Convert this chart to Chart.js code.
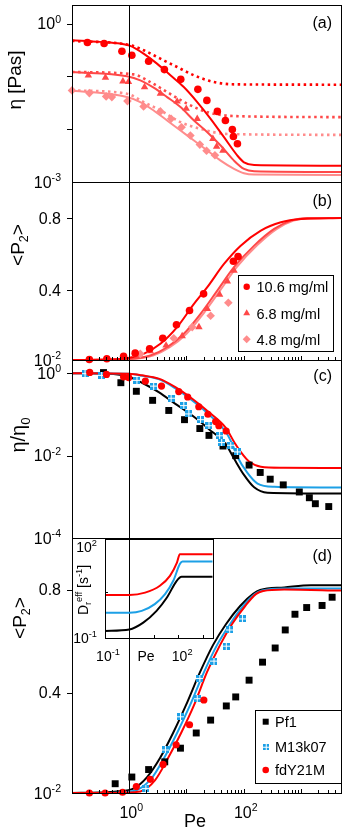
<!DOCTYPE html>
<html>
<head>
<meta charset="utf-8">
<script src="https://cdn.jsdelivr.net/npm/chart.js@4.4.0/dist/chart.umd.min.js"></script>
<style>
html, body { margin: 0; padding: 0; background: #fff; }
#wrap { position: relative; width: 351px; height: 832px; overflow: hidden; background: #fff; }
#wrap canvas { position: absolute; left: 0; top: 0; }
</style>
</head>
<body>
<div id="wrap">
  <canvas id="pa" width="351" height="832"></canvas>
  <canvas id="pb" width="351" height="832"></canvas>
  <canvas id="pc" width="351" height="832"></canvas>
  <canvas id="pd" width="351" height="832"></canvas>
  <canvas id="pin" width="351" height="832"></canvas>
</div>
<script>
//////////////////////////////////////////////
// Datos

// (a) viscosidad medida
const aPe106 = [0.186, 0.364, 0.745, 1.11, 2.18, 4.11, 7.94, 15.8, 22.7, 34.6, 47.8, 63.2, 66, 77.6];
const aEta106 = [0.436, 0.417, 0.298, 0.25, 0.193, 0.134, 0.0877, 0.0567, 0.035, 0.0217, 0.0146, 0.00986, 0.00725, 0.00528];
const aPe68 = [0.193, 0.384, 0.775, 0.97, 1.85, 3.5, 6.87, 9.9, 15.4, 28.9, 33.6, 43.3];
const aEta68 = [0.1045, 0.0945, 0.0804, 0.079, 0.0627, 0.047, 0.0335, 0.0244, 0.0157, 0.00657, 0.0047, 0.00394];
const aPe48 = [0.1, 0.201, 0.395, 0.497, 0.93, 1.78, 3.5, 5.39, 8.2, 11.7, 17.1, 22.4, 31.4];
const aEta48 = [0.0542, 0.0482, 0.0417, 0.0405, 0.034, 0.027, 0.0217, 0.0157, 0.0109, 0.0076, 0.0051, 0.0039, 0.0032];
// (a) modelo, lineas continuas
const aFitPe106 = [0.1, 0.31, 0.695, 1.04, 1.78, 3.05, 5.24, 8.97, 15.4, 26.4, 45.2, 77.4, 101, 152, 5000];
const aFit106 = [0.483, 0.449, 0.417, 0.377, 0.269, 0.174, 0.1045, 0.0627, 0.0326, 0.0157, 0.00705, 0.00316, 0.00236, 0.0021, 0.00204];
const aFitPe = [0.1, 0.91, 1.56, 2.67, 4.58, 7.85, 13.5, 23.1, 39.5, 67.6, 101, 152, 5000];
const aFit68 = [0.121, 0.1, 0.084, 0.061, 0.0405, 0.0262, 0.0146, 0.00877, 0.0049, 0.00254, 0.00177, 0.0016, 0.00155];
const aFit48 = [0.0542, 0.0405, 0.0326, 0.0226, 0.0146, 0.00944, 0.0061, 0.00394, 0.00254, 0.00177, 0.00146, 0.00138, 0.00136];
// (a) modelo, lineas punteadas
const aDotPe106 = [0.1, 1.04, 1.78, 3.5, 6.86, 13.5, 30.2, 67.6, 5000];
const aDot106 = [0.469, 0.388, 0.312, 0.216, 0.15, 0.1045, 0.078, 0.0705, 0.0695];
const aDotPe68 = [0.1, 1.19, 2.33, 4.58, 10.3, 23.1, 67.6, 5000];
const aDot68 = [0.121, 0.109, 0.078, 0.0504, 0.0303, 0.021, 0.0177, 0.0169];
const aDotPe48 = [0.1, 0.91, 1.78, 3.5, 7.85, 17.6, 51.7, 5000];
const aDot48 = [0.0542, 0.0469, 0.0326, 0.0226, 0.0136, 0.0101, 0.0081, 0.0078];

// (b) orden <P2>
const bPe106 = [0.201, 0.406, 0.796, 1.27, 2.27, 3.85, 6.68, 11.3, 19.9, 65.9, 79.6];
const bP106 = [0.013, 0.017, 0.03, 0.048, 0.072, 0.131, 0.206, 0.285, 0.378, 0.559, 0.585];
const bPe68 = [1.27, 2.33, 4.4, 8.4, 16.5, 23.1, 37.9, 51.7, 67.6];
const bP68 = [0.039, 0.059, 0.091, 0.143, 0.193, 0.294, 0.374, 0.448, 0.507];
const bPe48 = [1.56, 6.0, 12.6, 26.4, 53.8];
const bP48 = [0.044, 0.131, 0.193, 0.256, 0.328];
const bFitPe106 = [0.1, 0.31, 0.91, 1.78, 3.5, 6.86, 13.5, 23.1, 45.2, 88.5, 199, 446, 1000, 5000];
const bFit106 = [0.01, 0.011, 0.02, 0.044, 0.1, 0.193, 0.322, 0.415, 0.544, 0.646, 0.73, 0.776, 0.794, 0.8];
const bFitPe68 = [0.1, 0.91, 2.33, 4.58, 8.97, 17.6, 34.5, 67.6, 152, 340, 668, 1309, 5000];
const bFitPe48 = [0.1, 1.04, 2.6, 5.1, 10, 19.6, 38.5, 75.4, 169, 379, 743, 1458, 5000];
const bFit68 = [0.01, 0.015, 0.035, 0.081, 0.156, 0.267, 0.396, 0.526, 0.646, 0.739, 0.785, 0.8, 0.8];
const bFit48 = [0.01, 0.015, 0.035, 0.081, 0.156, 0.267, 0.396, 0.526, 0.646, 0.739, 0.785, 0.8, 0.8];

// (c) viscosidad reducida
const cPeK = [0.355, 0.714, 1.33, 2.56, 4.9, 9.23, 17.1, 24.7, 43.4, 72.4, 124, 194, 290, 490, 935, 1400, 1782, 3055];
const cEtaK = [1.04, 0.59, 0.365, 0.22, 0.125, 0.0747, 0.0455, 0.031, 0.0171, 0.01, 0.0059, 0.0039, 0.00268, 0.00195, 0.00131, 0.00095, 0.00068, 0.00058];
const cPeB = [0.169, 0.33, 1.36, 2.67, 5.38, 8.97, 11, 17.6, 24.7, 37.9, 41.1, 59.2, 77.4];
const cEtaB = [0.98, 0.89, 0.673, 0.489, 0.248, 0.164, 0.103, 0.0747, 0.0532, 0.0303, 0.0208, 0.0179, 0.0123];
const cPeR = [0.204, 0.4, 0.795, 0.98, 1.91, 3.66, 7.33, 10.5, 16.4, 23.7, 32.3, 36.8, 49.3];
const cEtaR = [1.05, 0.935, 0.82, 0.785, 0.642, 0.489, 0.36, 0.265, 0.154, 0.101, 0.067, 0.0535, 0.0397];
const cFitPeK = [0.1, 0.53, 1.04, 1.67, 3.27, 6.4, 12.6, 24.7, 48.3, 67.6, 101, 152, 260, 5000];
const cFitK = [1.0, 0.96, 0.8, 0.589, 0.349, 0.18, 0.094, 0.044, 0.019, 0.0085, 0.0034, 0.0017, 0.00126, 0.0012];
const cFitPeB = [0.1, 1.0, 1.67, 3.27, 6.4, 12.6, 24.7, 48.3, 62, 77, 116, 174, 340, 5000];
const cFitB = [1.0, 0.97, 0.87, 0.72, 0.43, 0.22, 0.1, 0.038, 0.02, 0.0095, 0.0038, 0.0021, 0.00175, 0.00168];
const cFitPeR = [0.1, 1.0, 1.67, 3.27, 6.4, 12.6, 24.7, 48.3, 70, 90, 124, 199, 500, 5000];
const cFitR = [1.0, 0.97, 0.89, 0.74, 0.46, 0.24, 0.113, 0.048, 0.02, 0.012, 0.0072, 0.0054, 0.0051, 0.005];

// (d) orden <P2>
const dPeK = [0.568, 1.11, 2.18, 4.17, 7.85, 14.8, 26.4, 49.6, 72.4, 124, 213, 354, 531, 785, 1257, 2336, 3499];
const dPK = [0.046, 0.072, 0.101, 0.131, 0.184, 0.243, 0.293, 0.348, 0.383, 0.448, 0.518, 0.573, 0.643, 0.704, 0.73, 0.738, 0.77];
const dPeB = [1.95, 4.28, 7.85, 15.4, 17.1, 30.2, 49.6, 56.8, 94.8];
const dPB = [0.027, 0.177, 0.306, 0.376, 0.455, 0.522, 0.58, 0.643, 0.686];
const dPeR = [0.201, 0.379, 0.764, 1.33, 2.33, 3.9, 6.59, 11.3, 20.1];
const dPR = [0.01, 0.01, 0.013, 0.035, 0.063, 0.121, 0.197, 0.275, 0.371];
const dFitPeK = [0.1, 0.3, 0.6, 1.2, 2.05, 3.45, 5.83, 9.84, 17.3, 29.2, 49.2, 86.5, 146, 194, 510, 1497, 5000];
const dFitK = [0.01, 0.012, 0.016, 0.028, 0.072, 0.146, 0.243, 0.352, 0.48, 0.585, 0.666, 0.736, 0.783, 0.798, 0.808, 0.817, 0.817];
const dFitPeB = [0.1, 0.31, 1.19, 2.41, 4.06, 6.85, 11.6, 20.3, 34.3, 57.8, 97.6, 158, 210, 510, 5000];
const dFitB = [0.01, 0.01, 0.018, 0.065, 0.146, 0.243, 0.352, 0.48, 0.585, 0.666, 0.736, 0.783, 0.796, 0.804, 0.804];
const dFitPeR = [0.1, 0.464, 1.56, 2.83, 4.77, 8.05, 13.6, 22.9, 38.7, 62.6, 106, 165, 218, 510, 5000];
const dFitR = [0.01, 0.01, 0.016, 0.06, 0.146, 0.243, 0.352, 0.48, 0.585, 0.666, 0.736, 0.783, 0.794, 0.8, 0.796];

// inset Dr eff
const inPeR = [0.1, 1, 4.4, 17.8, 46, 89, 117, 2600];
const inDR = [2.6, 2.6, 3.1, 5.2, 11, 30, 57, 57];
const inPeB = [0.1, 1, 3.2, 11, 29, 63, 117, 150, 2600];
const inDB = [0.68, 0.68, 0.78, 1.3, 2.76, 7.6, 27, 33, 33];
const inPeK = [0.1, 1, 3.7, 13, 34, 87, 138, 2600];
const inDK = [0.17, 0.19, 0.32, 0.78, 2.1, 7.6, 10.3, 10.3];

// textos
const conc = ['10.6 mg/ml', '6.8 mg/ml', '4.8 mg/ml'];
const virus = ['Pf1', 'M13k07', 'fdY21M'];

//////////////////////////////////////////////
// Estilos
const FONT = '"Liberation Sans", Arial, sans-serif';
const L = 72, R = 341;
const RED = '#ff0000', RED2 = '#ff4848', RED3 = '#ff8c8c';
const BLUE = '#1ca0e6', BLK = '#000000';

const pts = (xs, ys) => xs.map((x, i) => ({ x: x, y: ys[i] }));

function crossSq(size, color) {
  const c = document.createElement('canvas');
  c.width = c.height = size;
  const g = c.getContext('2d');
  g.fillStyle = color;
  g.fillRect(0, 0, size, size);
  g.fillStyle = '#fff';
  const m = Math.floor(size / 2);
  g.fillRect(m, 0, 1, size);
  g.fillRect(0, m, size, 1);
  return c;
}
const blueMark = crossSq(7, BLUE);

function line(xs, ys, color, w, dash) {
  return { data: pts(xs, ys), borderColor: color, borderWidth: w || 2, borderDash: dash || [],
    pointRadius: 0, cubicInterpolationMode: 'monotone', fill: false };
}
function marks(xs, ys, style, r, color) {
  return { data: pts(xs, ys), showLine: false, pointStyle: style, pointRadius: r,
    pointBackgroundColor: color, pointBorderColor: color, pointBorderWidth: 0, clip: false };
}

// texto con super/subindices: partes [texto, modo] modo 1 = sup, -1 = sub
function rich(ctx, parts, x, y, size, align) {
  const sm = size * 0.66;
  let w = 0;
  const items = parts.map(p => {
    const fs = p[1] ? sm : size;
    ctx.font = fs + 'px ' + FONT;
    const tw = ctx.measureText(p[0]).width;
    w += tw;
    return { t: p[0], m: p[1], fs: fs, tw: tw };
  });
  let cx = align === 'right' ? x - w : align === 'center' ? x - w / 2 : x;
  ctx.textAlign = 'left';
  ctx.textBaseline = 'alphabetic';
  ctx.fillStyle = '#000';
  items.forEach(it => {
    ctx.font = it.fs + 'px ' + FONT;
    const dy = it.m === 1 ? -size * 0.42 : it.m === -1 ? size * 0.22 : 0;
    ctx.fillText(it.t, cx, y + dy);
    cx += it.tw;
  });
}
function richV(ctx, parts, cx, cy, size) {
  ctx.save();
  ctx.translate(cx + size * 0.36, cy);
  ctx.rotate(-Math.PI / 2);
  rich(ctx, parts, 0, 0, size, 'center');
  ctx.restore();
}
const p10 = e => [['10', 0], [String(e), 1]];

function frame(ctx, a) {
  ctx.save();
  ctx.strokeStyle = '#000';
  ctx.lineWidth = 1;
  ctx.strokeRect(Math.round(a.left) + 0.5, Math.round(a.top) + 0.5, Math.round(a.right - a.left), Math.round(a.bottom - a.top));
  ctx.restore();
}
function vline(ctx, a, x) {
  const px = Math.round(x.getPixelForValue(1)) + 0.5;
  ctx.save();
  ctx.strokeStyle = '#000';
  ctx.lineWidth = 1;
  ctx.beginPath();
  ctx.moveTo(px, a.top);
  ctx.lineTo(px, a.bottom);
  ctx.stroke();
  ctx.restore();
}
function yTicks(ctx, a, y, vals, len) {
  ctx.save();
  ctx.strokeStyle = '#000';
  ctx.lineWidth = 1;
  ctx.beginPath();
  vals.forEach(v => {
    const py = Math.round(y.getPixelForValue(v)) + 0.5;
    ctx.moveTo(a.left - len, py);
    ctx.lineTo(a.left, py);
  });
  ctx.stroke();
  ctx.restore();
}
function yLabels(ctx, y, list, size, rx) {
  list.forEach(it => rich(ctx, it[1], rx, y.getPixelForValue(it[0]) + size * 0.36, size, 'right'));
}
function xMinor(ctx, a, x) {
  ctx.save();
  ctx.strokeStyle = '#000';
  ctx.lineWidth = 1;
  ctx.beginPath();
  for (let e = -1; e <= 3; e++) {
    for (let k = 1; k <= 9; k++) {
      const v = k * Math.pow(10, e);
      if (v <= x.min || v >= x.max) continue;
      const px = Math.round(x.getPixelForValue(v)) + 0.5;
      ctx.moveTo(px, a.bottom);
      ctx.lineTo(px, a.bottom - (k === 1 ? 4 : 3));
    }
  }
  ctx.stroke();
  ctx.restore();
}
function tag(ctx, text, cy) {
  ctx.font = '16px ' + FONT;
  ctx.fillStyle = '#000';
  ctx.textAlign = 'right';
  ctx.textBaseline = 'alphabetic';
  ctx.fillText(text, 332, cy + 5.5);
}
function marker(ctx, style, x, y, r, color) {
  ctx.save();
  ctx.fillStyle = color;
  ctx.beginPath();
  if (style === 'circle') ctx.arc(x, y, r, 0, Math.PI * 2);
  if (style === 'triangle') { ctx.moveTo(x, y - r); ctx.lineTo(x + r * 0.866, y + r / 2); ctx.lineTo(x - r * 0.866, y + r / 2); ctx.closePath(); }
  if (style === 'rectRot') { ctx.moveTo(x, y - r); ctx.lineTo(x + r, y); ctx.lineTo(x, y + r); ctx.lineTo(x - r, y); ctx.closePath(); }
  if (style === 'rect') ctx.rect(x - r, y - r, 2 * r, 2 * r);
  ctx.fill();
  if (style === 'cross') ctx.drawImage(crossSq(2 * r, color), x - r, y - r);
  ctx.restore();
}
function legendBox(ctx, bx, by, bw, bh, items, mx, tx, ys) {
  ctx.save();
  ctx.fillStyle = '#fff';
  ctx.fillRect(bx, by, bw, bh);
  ctx.strokeStyle = '#000';
  ctx.lineWidth = 1;
  ctx.strokeRect(bx + 0.5, by + 0.5, bw, bh);
  items.forEach((it, i) => {
    marker(ctx, it[1], mx, ys[i], it[2], it[3]);
    ctx.font = '14.5px ' + FONT;
    ctx.fillStyle = '#000';
    ctx.textAlign = 'left';
    ctx.textBaseline = 'alphabetic';
    ctx.fillText(it[0], tx, ys[i] + 5.2);
  });
  ctx.restore();
}

function makeChart(id, box, xs, ys, datasets, draw) {
  return new Chart(document.getElementById(id), {
    type: 'line',
    data: { datasets: datasets },
    options: {
      responsive: false, animation: false, devicePixelRatio: 1, events: [],
      layout: { padding: { left: box.l, right: 351 - box.r, top: box.t, bottom: 832 - box.b } },
      scales: { x: Object.assign({ display: false }, xs), y: Object.assign({ display: false }, ys) },
      plugins: { legend: { display: false }, tooltip: { enabled: false } }
    },
    plugins: [{ id: 'deco', afterDraw: c => draw(c.ctx, c.chartArea, c.scales.x, c.scales.y) }]
  });
}

const xMain = { type: 'logarithmic', min: 0.1, max: 5000 };

//////////////////////////////////////////////
// (a)
makeChart('pa', { l: L, r: R, t: 5, b: 182 }, xMain, { type: 'logarithmic', min: 0.001, max: 2.24 }, [
  marks(aPe106, aEta106, 'circle', 3.8, RED),
  marks(aPe68, aEta68, 'triangle', 4.3, RED2),
  marks(aPe48, aEta48, 'rectRot', 4.3, RED3),
  line(aFitPe106, aFit106, RED, 2),
  line(aFitPe, aFit68, RED2, 2),
  line(aFitPe, aFit48, RED3, 2),
  line(aDotPe106, aDot106, RED, 2.6, [2.5, 3.5]),
  line(aDotPe68, aDot68, RED2, 2.6, [2.5, 3.5]),
  line(aDotPe48, aDot48, RED3, 2.6, [2.5, 3.5])
], (ctx, a, x, y) => {
  vline(ctx, a, x);
  frame(ctx, a);
  yTicks(ctx, a, y, [1, 0.1, 0.01], 5);
  yLabels(ctx, y, [[1, p10(0)], [0.001, p10(-3)]], 16, 61);
  richV(ctx, [['η [Pas]', 0]], 14, 80, 19);
  tag(ctx, '(a)', 22.7);
});

// (b)
makeChart('pb', { l: L, r: R, t: 182, b: 360 }, xMain, { type: 'linear', min: 0.01, max: 1.0 }, [
  marks(bPe106, bP106, 'circle', 3.8, RED),
  marks(bPe68, bP68, 'triangle', 4.3, RED2),
  marks(bPe48, bP48, 'rectRot', 4.3, RED3),
  line(bFitPe106, bFit106, RED, 2),
  line(bFitPe68, bFit68, RED2, 2),
  line(bFitPe48, bFit48, RED3, 2)
], (ctx, a, x, y) => {
  vline(ctx, a, x);
  frame(ctx, a);
  xMinor(ctx, a, x);
  yTicks(ctx, a, y, [0.8, 0.4], 5);
  yLabels(ctx, y, [[0.8, [['0.8', 0]]], [0.4, [['0.4', 0]]], [0.01, p10(-2)]], 16, 61);
  richV(ctx, [['<P', 0], ['2', -1], ['>', 0]], 17, 245, 19);
  tag(ctx, '(b)', 200);
  legendBox(ctx, 238, 275, 95, 76, [
    [conc[0], 'circle', 3.2, RED], [conc[1], 'triangle', 4, RED2], [conc[2], 'rectRot', 4, RED3]
  ], 246.7, 256.5, [286.7, 313.3, 339.3]);
});

// (c)
makeChart('pc', { l: L, r: R, t: 360, b: 538 }, xMain, { type: 'logarithmic', min: 0.0001, max: 2.1 }, [
  marks(cPeR, cEtaR, 'circle', 3.6, RED),
  marks(cPeB, cEtaB, blueMark, 3.5, BLUE),
  marks(cPeK, cEtaK, 'rect', 4.9, BLK),
  line(cFitPeR, cFitR, RED, 2),
  line(cFitPeB, cFitB, BLUE, 2),
  line(cFitPeK, cFitK, BLK, 2)
], (ctx, a, x, y) => {
  vline(ctx, a, x);
  frame(ctx, a);
  yTicks(ctx, a, y, [1, 0.01], 5);
  yLabels(ctx, y, [[1, p10(0)], [0.01, p10(-2)], [0.0001, p10(-4)]], 16, 61);
  richV(ctx, [['η/η', 0], ['0', -1]], 18, 435, 20);
  tag(ctx, '(c)', 375);
});

// (d)
makeChart('pd', { l: L, r: R, t: 538, b: 793 }, xMain, { type: 'linear', min: 0.01, max: 1.0 }, [
  marks(dPeR, dPR, 'circle', 3.6, RED),
  marks(dPeB, dPB, blueMark, 3.5, BLUE),
  marks(dPeK, dPK, 'rect', 4.9, BLK),
  line(dFitPeR, dFitR, RED, 2),
  line(dFitPeB, dFitB, BLUE, 2),
  line(dFitPeK, dFitK, BLK, 2)
], (ctx, a, x, y) => {
  vline(ctx, a, x);
  frame(ctx, a);
  xMinor(ctx, a, x);
  yTicks(ctx, a, y, [0.8, 0.4], 5);
  yLabels(ctx, y, [[0.8, [['0.8', 0]]], [0.4, [['0.4', 0]]], [0.01, p10(-2)]], 16, 61);
  richV(ctx, [['<P', 0], ['2', -1], ['>', 0]], 19, 618, 19);
  tag(ctx, '(d)', 555);
  [[1, p10(0)], [100, p10(2)]].forEach(it => rich(ctx, it[1], x.getPixelForValue(it[0]) + 2, 818, 16, 'center'));
  rich(ctx, [['Pe', 0]], 195, 827, 18, 'center');
  legendBox(ctx, 255, 710, 86, 73, [
    [virus[0], 'rect', 3, BLK], [virus[1], 'cross', 3, BLUE], [virus[2], 'circle', 3.3, RED]
  ], 265.7, 275, [721.7, 746.7, 770]);
});

// inset
makeChart('pin', { l: 105, r: 212.7, t: 539, b: 638 }, { type: 'logarithmic', min: 0.1, max: 2600 },
  { type: 'logarithmic', min: 0.1, max: 180 }, [
  line(inPeR, inDR, RED, 2),
  line(inPeB, inDB, BLUE, 2),
  line(inPeK, inDK, BLK, 2)
], (ctx, a, x, y) => {
  frame(ctx, a);
  ctx.save();
  ctx.strokeStyle = '#000';
  ctx.lineWidth = 1;
  ctx.beginPath();
  [1, 10, 100, 1000].forEach(v => {
    const px = Math.round(x.getPixelForValue(v)) + 0.5;
    ctx.moveTo(px, a.bottom);
    ctx.lineTo(px, a.bottom - 3);
  });
  const py = Math.round(y.getPixelForValue(3.162)) + 0.5;
  ctx.moveTo(a.left, py);
  ctx.lineTo(a.left + 3, py);
  ctx.stroke();
  ctx.restore();
  yLabels(ctx, y, [[100, p10(2)], [0.1, p10(-1)]], 14, 97);
  rich(ctx, p10(-1), x.getPixelForValue(0.1) + 3, 661, 14, 'center');
  rich(ctx, [['Pe', 0]], 146, 661, 14, 'center');
  rich(ctx, p10(2), x.getPixelForValue(100) + 4, 661, 14, 'center');
  richV(ctx, [['D', 0], ['r', -1], ['eff', 1], [' [s', 0], ['-1', 1], [']', 0]], 83, 590, 14);
});
</script>
</body>
</html>
